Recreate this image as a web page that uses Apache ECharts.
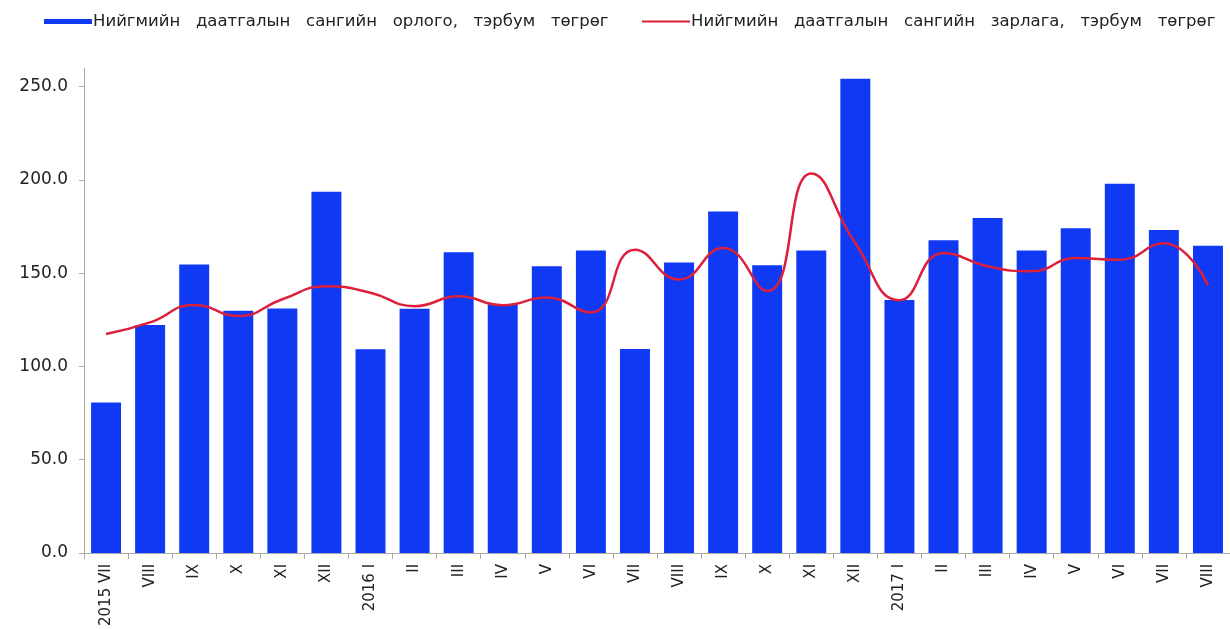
<!DOCTYPE html>
<html>
<head>
<meta charset="utf-8">
<script src="https://cdn.jsdelivr.net/npm/echarts@6/dist/echarts.min.js"></script>
<style>
  html, body { margin: 0; padding: 0; background: #fff; }
  #chart { width: 1230px; height: 629px; }
</style>
</head>
<body>
<div id="chart"></div>
<script>
var months = ['2015 VII', 'VIII', 'IX', 'X', 'XI', 'XII',
  '2016 I', 'II', 'III', 'IV', 'V', 'VI', 'VII', 'VIII', 'IX', 'X', 'XI', 'XII',
  '2017 I', 'II', 'III', 'IV', 'V', 'VI', 'VII', 'VIII']

// орлого (bars)
var incomeValues = [80.7, 122.2, 154.6, 129.8, 131.0, 193.6,
  109.2, 130.9, 161.2, 133.4, 153.7, 162.1, 109.4, 155.7, 183.1, 154.2, 162.1, 254.3,
  135.6, 167.6, 179.6, 162.1, 174.1, 198.0, 173.2, 164.7]

// зарлага (line)
var expenseValues = [117.4, 123.6, 133.0, 127.0, 136.0, 143.0,
  139.5, 132.3, 137.6, 132.8, 136.9, 128.9, 162.6, 146.6, 163.5, 140.4, 203.4, 166.0,
  135.5, 160.8, 153.7, 151.0, 158.1, 157.2, 166.1, 143.6]

var yTicks = [0, 50, 100, 150, 200, 250]

var incomeName = 'Нийгмийн   даатгалын   сангийн   орлого,   тэрбум   төгрөг'
var expenseName = 'Нийгмийн   даатгалын   сангийн   зарлага,   тэрбум   төгрөг'

var chart = echarts.init(document.getElementById('chart'))
var font = 'DejaVu Sans, Liberation Sans, Arial, sans-serif'

chart.setOption({
  animation: false,
  textStyle: { fontFamily: font },
  legend: [
    {
      data: [incomeName],
      left: 39,
      top: 8,
      itemWidth: 48,
      itemHeight: 5,
      icon: 'rect',
      textStyle: { fontSize: 16.5, color: '#222', fontFamily: font, padding: [0, 0, 0, -4] }
    },
    {
      data: [expenseName],
      left: 637,
      top: 8,
      itemWidth: 48,
      itemHeight: 2,
      icon: 'rect',
      textStyle: { fontSize: 16.5, color: '#222', fontFamily: font, padding: [0, 0, 0, -4] }
    }
  ],
  grid: {
    left: 84,
    top: 68,
    width: 1150,
    bottom: 76,
    containLabel: false
  },
  xAxis: {
    type: 'category',
    data: months,
    boundaryGap: true,
    axisLine: { lineStyle: { color: '#aaa', width: 1 } },
    axisTick: { show: true, length: 6, lineStyle: { color: '#aaa' } },
    axisLabel: {
      rotate: 90,
      interval: 0,
      margin: 11,
      fontSize: 15,
      color: '#222',
      fontFamily: font
    }
  },
  yAxis: {
    type: 'value',
    min: 0,
    max: 260,
    interval: 50,
    splitLine: { show: false },
    axisLine: { show: true, lineStyle: { color: '#aaa', width: 1 } },
    axisTick: { show: true, length: 5, lineStyle: { color: '#aaa' }, customValues: yTicks },
    axisLabel: {
      customValues: yTicks,
      margin: 16,
      fontSize: 17,
      color: '#222',
      fontFamily: font,
      formatter: function (v) { return v.toFixed(1) }
    }
  },
  series: [
    {
      name: incomeName,
      type: 'bar',
      data: incomeValues,
      barCategoryGap: '32%',
      itemStyle: { color: '#1039f4' }
    },
    {
      name: expenseName,
      type: 'line',
      data: expenseValues,
      smooth: 0.5,
      symbol: 'none',
      lineStyle: { color: '#dc1f3a', width: 2.5 },
      itemStyle: { color: '#dc1f3a' }
    }
  ]
})
</script>
</body>
</html>
